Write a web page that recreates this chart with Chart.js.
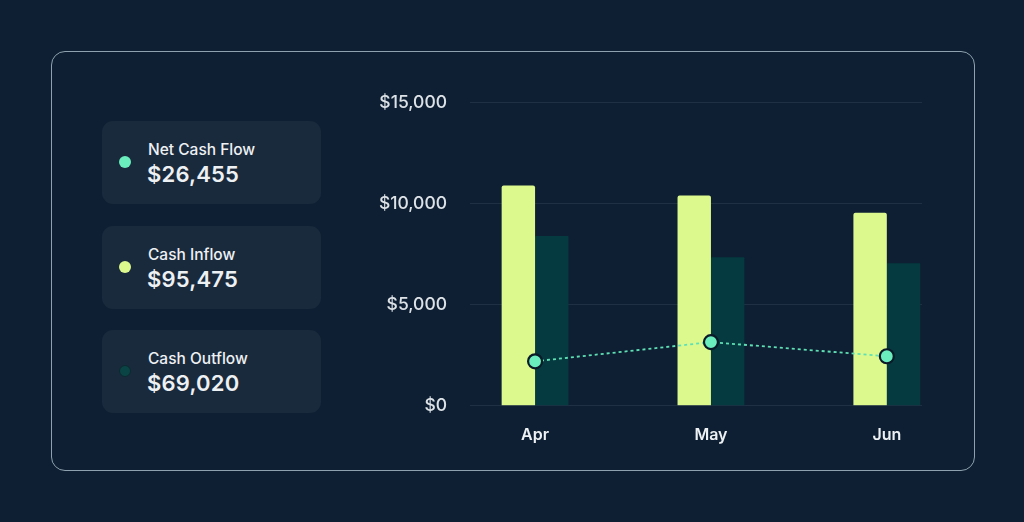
<!DOCTYPE html>
<html>
<head>
<meta charset="utf-8">
<script src="https://cdn.jsdelivr.net/npm/chart.js@4.4.1/dist/chart.umd.min.js"></script>
<style>
    html, body { margin: 0; padding: 0; }
    body {
        width: 1024px; height: 522px; overflow: hidden;
        background: #0e1f33;
        font-family: Inter, "Noto Sans", sans-serif;
        position: relative;
    }
    .panel {
        position: absolute; left: 51px; top: 51px; width: 924px; height: 420px;
        border: 1.5px solid #8da2ae; border-radius: 14px;
        box-sizing: border-box;
    }
    .card {
        position: absolute; left: 102px; width: 219px; height: 83px;
        background: #1a2a3d; border-radius: 11px;
        color: #eef1f3;
    }
    .card .dot {
        position: absolute; left: 17px; top: 35px; width: 12px; height: 12px;
        border-radius: 50%; box-sizing: border-box;
    }
    .card .title { position: absolute; left: 46px; top: 19px; font-size: 15.5px; font-weight: 500; }
    .card .value { position: absolute; left: 45px; top: 40px; font-size: 22px; font-weight: 600; letter-spacing: 0.2px; }
    #wrap { position: absolute; left: 360px; top: 69px; width: 600px; height: 388px; }
</style>
</head>
<body>
<div class="panel"></div>
<div id="cards"></div>
<div id="wrap"><canvas id="chart"></canvas></div>
<script>
const months = ["Apr", "May", "Jun"];
const cashInflow = [10900, 10400, 9550];
const cashOutflow = [8400, 7350, 7050];
const netCashFlow = [2200, 3150, 2450];
const yTicks = [0, 5000, 10000, 15000];

const summaryNames = ["Net Cash Flow", "Cash Inflow", "Cash Outflow"];
const summaryTotals = ["$26,455", "$95,475", "$69,020"];
const summaryColors = ["#6beebd", "#dcf98e", "#0a4444"];
const cardTops = [121, 226, 330];

// summary cards on the left
let cards = document.getElementById("cards");
for (let i = 0; i < summaryNames.length; i++) {
    let card = document.createElement("div");
    card.className = "card";
    card.style.top = cardTops[i] + "px";

    let dot = document.createElement("div");
    dot.className = "dot";
    dot.style.background = summaryColors[i];
    if (i === 2) dot.style.border = "1.5px solid #0b2a30";

    let title = document.createElement("div");
    title.className = "title";
    title.textContent = summaryNames[i];

    let value = document.createElement("div");
    value.className = "value";
    value.textContent = summaryTotals[i];

    card.appendChild(dot);
    card.appendChild(title);
    card.appendChild(value);
    cards.appendChild(card);
}

function toPoints(arr) {
    return arr.map((v, i) => ({ x: i, y: v }));
}

new Chart(document.getElementById("chart"), {
    data: {
        datasets: [{
            type: 'line',
            label: 'Net Cash Flow',
            data: toPoints(netCashFlow),
            borderColor: '#5fe0b4',
            borderWidth: 1.8,
            borderDash: [3, 3],
            pointRadius: 7,
            pointBackgroundColor: '#6beebd',
            pointBorderColor: '#0a1a28',
            pointBorderWidth: 2.2,
            order: 0
        }, {
            type: 'bar',
            label: 'Cash Inflow',
            data: toPoints(cashInflow),
            backgroundColor: '#dcf98e',
            borderRadius: 2,
            borderSkipped: 'start',
            barPercentage: 1,
            categoryPercentage: 0.38,
            order: 1
        }, {
            type: 'bar',
            label: 'Cash Outflow',
            data: toPoints(cashOutflow),
            backgroundColor: '#053a40',
            borderRadius: 1,
            borderSkipped: 'start',
            barPercentage: 1,
            categoryPercentage: 0.38,
            order: 1
        }]
    },
    options: {
        responsive: true,
        maintainAspectRatio: false,
        animation: false,
        layout: { padding: { top: 12, right: 38, bottom: 0, left: 0 } },
        plugins: { legend: { display: false }, tooltip: { enabled: false } },
        scales: {
            x: {
                type: 'linear',
                min: -0.37,
                max: 2.2,
                offset: false,
                grid: { display: false },
                border: { display: false },
                afterBuildTicks: (scale) => {
                    scale.ticks = months.map((m, i) => ({ value: i }));
                },
                ticks: {
                    padding: 12,
                    color: '#eef1f3',
                    font: { family: 'Inter', size: 16, weight: '600' },
                    callback: (value) => months[value]
                }
            },
            y: {
                min: 0,
                max: 15000,
                afterBuildTicks: (scale) => {
                    scale.ticks = yTicks.map((v) => ({ value: v }));
                },
                afterFit: (scale) => { scale.width = 110; },
                grid: { color: '#1f3044', lineWidth: 1, drawTicks: false },
                border: { display: false },
                ticks: {
                    padding: 23,
                    color: '#dde2e7',
                    font: { family: 'Inter', size: 17.5, weight: '500' },
                    callback: (value) => '$' + value.toLocaleString('en-US')
                }
            }
        }
    }
});
</script>
</body>
</html>
